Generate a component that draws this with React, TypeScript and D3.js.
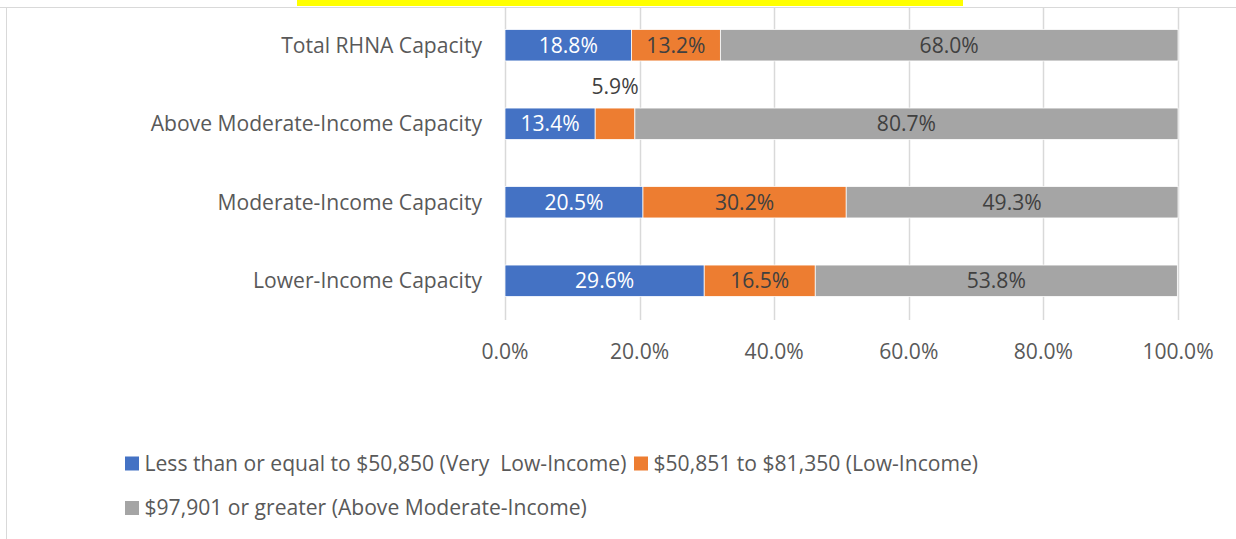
import React, { useEffect, useRef } from "react";
import * as d3 from "d3";

const categories = [
  "Total RHNA Capacity",
  "Above Moderate-Income Capacity",
  "Moderate-Income Capacity",
  "Lower-Income Capacity",
];
const veryLow = [18.8, 13.4, 20.5, 29.6];
const low = [13.2, 5.9, 30.2, 16.5];
const aboveMod = [68.0, 80.7, 49.3, 53.8];
const seriesNames = [
  "Less than or equal to $50,850 (Very  Low-Income)",
  "$50,851 to $81,350 (Low-Income)",
  "$97,901 or greater (Above Moderate-Income)",
];
const ticks = [0, 20, 40, 60, 80, 100];

const colors = ["#4472C4", "#ED7D31", "#A5A5A5"];
const labelColors = ["#ffffff", "#404040", "#404040"];
const font = "Open Sans, sans-serif";
const fs = 21.1;

const App = () => {
  const ref = useRef<SVGSVGElement>(null);

  useEffect(() => {
    const width = 1236;
    const height = 539;
    const svg = d3.select(ref.current);
    svg.selectAll("*").remove();

    const rows = categories.map((c, i) => ({
      cat: c,
      vals: [veryLow[i], low[i], aboveMod[i]],
    }));

    const x = d3.scaleLinear().domain([0, 100]).range([505, 1178]);
    const y = d3
      .scaleBand()
      .domain(categories)
      .range([6, 320])
      .paddingInner(0.6)
      .paddingOuter(0.3);

    // frame bits
    svg
      .append("rect")
      .attr("x", 297)
      .attr("y", 0)
      .attr("width", 666)
      .attr("height", 6)
      .attr("fill", "#FFFF00");
    svg
      .append("line")
      .attr("x1", 0)
      .attr("x2", width)
      .attr("y1", 7.5)
      .attr("y2", 7.5)
      .attr("stroke", "#d9d9d9");
    svg
      .append("line")
      .attr("x1", 6.5)
      .attr("x2", 6.5)
      .attr("y1", 7.5)
      .attr("y2", height)
      .attr("stroke", "#d9d9d9");

    // gridlines
    svg
      .append("g")
      .selectAll("line")
      .data(ticks)
      .join("line")
      .attr("x1", (d) => Math.round(x(d)) + 0.5)
      .attr("x2", (d) => Math.round(x(d)) + 0.5)
      .attr("y1", 8)
      .attr("y2", 320)
      .attr("stroke", "#d9d9d9")
      .attr("stroke-width", 1.5);

    // tick labels
    svg
      .append("g")
      .selectAll("text")
      .data(ticks)
      .join("text")
      .attr("x", (d) => x(d))
      .attr("y", 352)
      .attr("dy", "0.35em")
      .attr("text-anchor", "middle")
      .attr("fill", "#595959")
      .attr("font-family", font)
      .attr("font-size", fs)
      .text((d) => d.toFixed(1) + "%");

    // category labels
    svg
      .append("g")
      .selectAll("text")
      .data(categories)
      .join("text")
      .attr("x", 482)
      .attr("y", (d) => y(d)! + y.bandwidth() / 2)
      .attr("dy", "0.35em")
      .attr("text-anchor", "end")
      .attr("fill", "#595959")
      .attr("font-family", font)
      .attr("font-size", fs)
      .text((d) => d);

    const segs = rows.flatMap((r) => {
      let acc = 0;
      return r.vals.map((v, k) => {
        const s = { cat: r.cat, k, v, x0: acc, x1: acc + v };
        acc += v;
        return s;
      });
    });

    svg
      .append("g")
      .selectAll("rect")
      .data(segs)
      .join("rect")
      .attr("x", (d) => x(d.x0))
      .attr("y", (d) => y(d.cat)!)
      .attr("width", (d) => x(d.x1) - x(d.x0))
      .attr("height", y.bandwidth())
      .attr("fill", (d) => colors[d.k])
      .attr("stroke", "#ffffff")
      .attr("stroke-width", 0.75);

    svg
      .append("g")
      .selectAll("text")
      .data(segs)
      .join("text")
      .attr("x", (d) => x((d.x0 + d.x1) / 2))
      .attr("y", (d) =>
        d.v < 8
          ? y(d.cat)! - 21
          : y(d.cat)! + y.bandwidth() / 2
      )
      .attr("dy", "0.35em")
      .attr("text-anchor", "middle")
      .attr("fill", (d) => (d.v < 8 ? "#404040" : labelColors[d.k]))
      .attr("font-family", font)
      .attr("font-size", fs)
      .text((d) => d.v.toFixed(1) + "%");

    // legend
    const legendItems = [
      { name: seriesNames[0], c: colors[0], x: 125, y: 463.5 },
      { name: seriesNames[1], c: colors[1], x: 634, y: 463.5 },
      { name: seriesNames[2], c: colors[2], x: 125, y: 508 },
    ];
    const lg = svg
      .append("g")
      .selectAll("g")
      .data(legendItems)
      .join("g")
      .attr("transform", (d) => `translate(${d.x},${d.y})`);
    lg.append("rect")
      .attr("x", 0)
      .attr("y", -7)
      .attr("width", 14)
      .attr("height", 14)
      .attr("fill", (d) => d.c);
    lg.append("text")
      .attr("x", 19.5)
      .attr("dy", "0.35em")
      .attr("fill", "#595959")
      .attr("font-family", font)
      .attr("font-size", fs)
      .attr("xml:space", "preserve")
      .style("white-space", "pre")
      .text((d) => d.name);
  }, []);

  return (
    <svg
      ref={ref}
      width={1236}
      height={539}
      style={{ position: "absolute", left: 0, top: 0, background: "#fff" }}
    />
  );
};

export default App;
